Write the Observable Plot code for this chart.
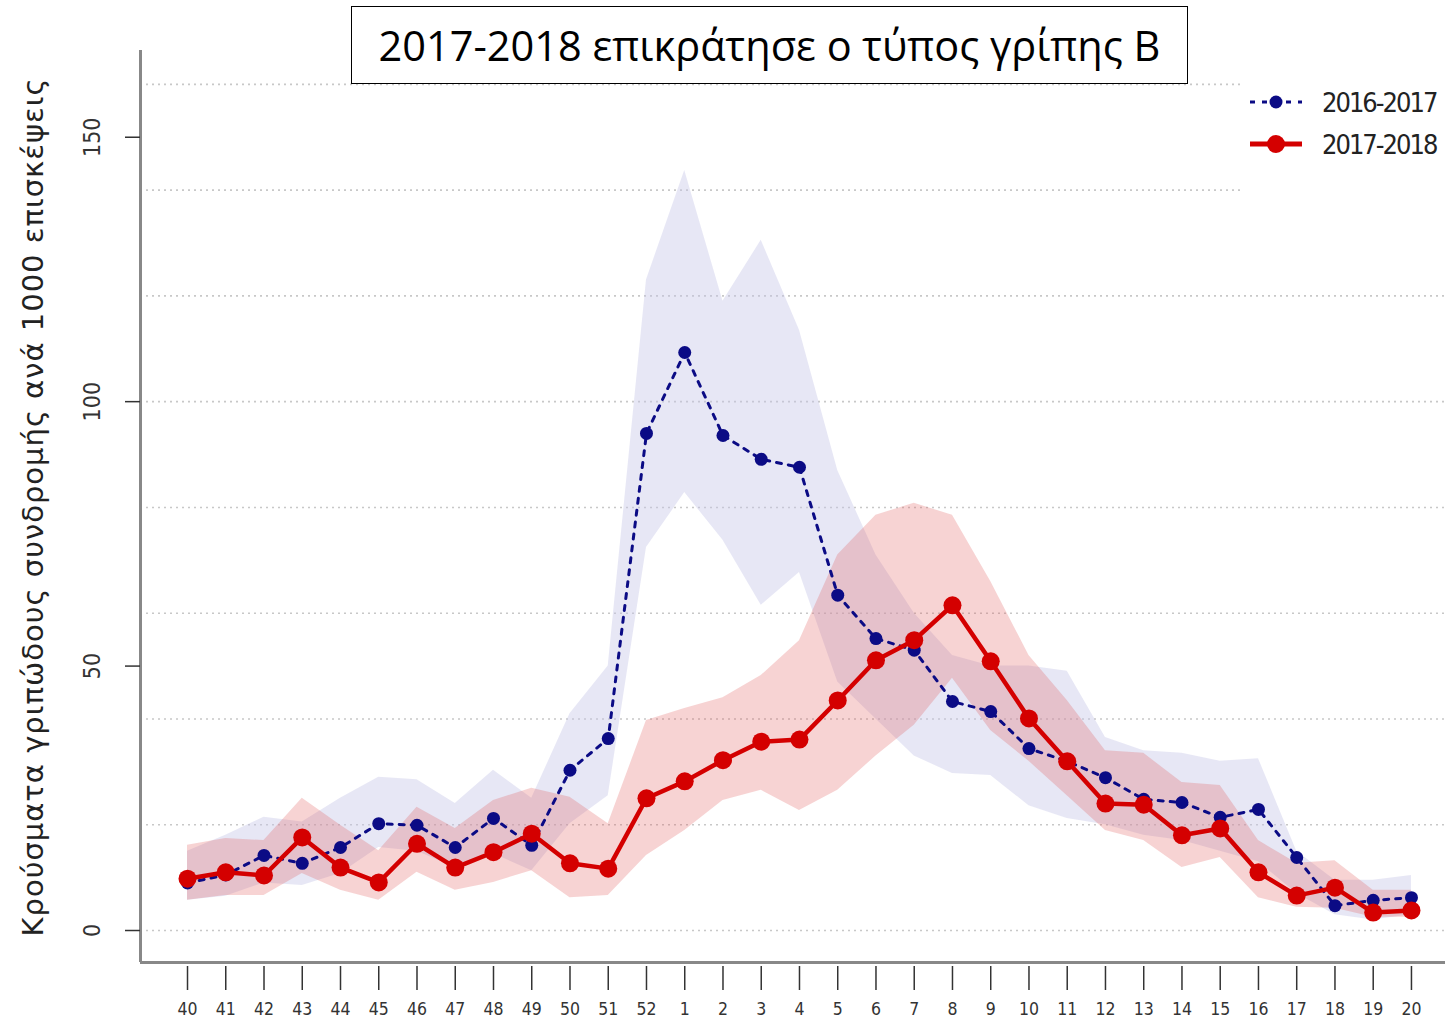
<!DOCTYPE html>
<html>
<head>
<meta charset="utf-8">
<script src="https://cdn.jsdelivr.net/npm/d3@7"></script>
<script src="https://cdn.jsdelivr.net/npm/@observablehq/plot@0.6"></script>
<style>
  body { margin: 0; background: #fff; }
  #wrap { position: relative; width: 1445px; height: 1022px; overflow: hidden; }
  #title { position: absolute; left: 351px; top: 6px; width: 835px; height: 76px; border: 1.5px solid #000;
           font-family: "Open Sans", "Noto Sans", sans-serif; font-size: 41.5px; line-height: 76px; text-align: center; color: #000; background: #fff; z-index: 2; white-space: nowrap; }
  #ylabel { position: absolute; left: 33px; top: 507px; transform: translate(-50%, -50%) rotate(-90deg); white-space: nowrap;
            font-family: "DejaVu Sans", sans-serif; font-size: 29px; letter-spacing: 1px; color: #222; }
  #legend { position: absolute; left: 1240px; top: 74px; width: 205px; height: 118px; background: #fff; z-index: 2;
            font-family: "DejaVu Sans Condensed", "DejaVu Sans", sans-serif; font-stretch: condensed; font-size: 27px; letter-spacing: -2px; color: #222; }
  .lg { position: absolute; left: 0; height: 40px; display: flex; align-items: center; white-space: nowrap; }
  .lg svg { margin-left: 8px; margin-right: 18px; }
</style>
</head>
<body>
<div id="wrap">
  <div id="title">2017-2018 επικράτησε ο τύπος γρίπης Β</div>
  <div id="ylabel">Κρούσματα γριπώδους συνδρομής ανά 1000 επισκέψεις</div>
  <div id="legend">
    <div class="lg" style="top:8px"><svg width="56" height="20"><line x1="2" y1="10" x2="54" y2="10" stroke="#0b0b85" stroke-width="3" stroke-dasharray="5,7"/><circle cx="28" cy="10" r="6.5" fill="#0b0b85"/></svg><span>2016-2017</span></div>
    <div class="lg" style="top:50px"><svg width="56" height="20"><line x1="2" y1="10" x2="54" y2="10" stroke="#d40000" stroke-width="5"/><circle cx="28" cy="10" r="9" fill="#d40000"/></svg><span>2017-2018</span></div>
  </div>
  <div id="chart"></div>
</div>
<script>
const weeks = ["40","41","42","43","44","45","46","47","48","49","50","51","52","1","2","3","4","5","6","7","8","9","10","11","12","13","14","15","16","17","18","19","20"];
const yTicks = [0, 50, 100, 150];
const gridValues = [0, 20, 40, 60, 80, 100, 120, 140, 160];

const rate1617 = [9.0, 10.5, 14.2, 12.7, 15.7, 20.2, 19.9, 15.7, 21.2, 16.1, 30.3, 36.3, 94.0, 109.3, 93.6, 89.1, 87.6, 63.4, 55.2, 53.0, 43.3, 41.4, 34.4, 32.0, 28.9, 24.8, 24.2, 21.4, 22.9, 13.8, 4.7, 5.7, 6.2];
const low1617  = [5.7, 6.5, 9.0, 8.5, 10.8, 15.7, 15.0, 11.9, 14.5, 11.3, 20.2, 25.5, 72.4, 82.8, 73.8, 61.5, 67.7, 47.0, 40.0, 33.0, 29.7, 29.3, 23.6, 21.2, 20.0, 18.0, 17.0, 15.0, 13.0, 7.0, 3.0, 2.0, 3.0];
const high1617 = [15.0, 18.0, 21.4, 20.5, 25.0, 29.0, 28.5, 24.0, 30.3, 25.0, 41.0, 50.0, 123.0, 143.7, 119.0, 130.5, 113.5, 87.0, 71.0, 60.0, 52.0, 50.0, 50.0, 49.0, 36.5, 34.0, 33.5, 32.0, 32.5, 15.0, 9.5, 9.5, 10.4];

const rate1718 = [9.8, 11.0, 10.4, 17.6, 11.9, 9.1, 16.4, 11.9, 14.8, 18.3, 12.7, 11.7, 25.0, 28.2, 32.2, 35.7, 36.1, 43.5, 51.1, 54.9, 61.5, 50.9, 40.1, 32.0, 24.0, 23.8, 18.0, 19.3, 11.0, 6.6, 8.1, 3.4, 3.8];
const low1718  = [5.7, 6.6, 6.6, 10.8, 7.6, 5.7, 11.0, 7.6, 9.1, 11.3, 6.2, 6.6, 14.2, 18.9, 24.6, 26.5, 22.7, 26.5, 33.0, 38.8, 47.7, 37.8, 32.0, 25.5, 18.9, 17.0, 11.9, 13.8, 6.2, 4.4, 4.2, 2.5, 2.5];
const high1718 = [16.1, 17.4, 17.0, 25.0, 19.9, 15.1, 23.3, 19.3, 24.6, 26.9, 25.2, 20.2, 39.7, 42.0, 44.0, 48.2, 54.8, 71.0, 78.5, 80.8, 78.5, 66.0, 52.0, 43.5, 34.0, 33.5, 28.0, 27.4, 17.0, 12.7, 13.2, 7.6, 7.6];

const s1617 = weeks.map((w, i) => ({i, v: rate1617[i], lo: low1617[i], hi: high1617[i]}));
const s1718 = weeks.map((w, i) => ({i, v: rate1718[i], lo: low1718[i], hi: high1718[i]}));

const xMin = -1.229, xMax = 32.89, yMin = -6.05, yMax = 166.4;
const blue = "#0b0b85", red = "#d40000";
const tickFont = '"DejaVu Sans Condensed", "DejaVu Sans", sans-serif';

const chart = Plot.plot({
  width: 1445,
  height: 1022,
  marginLeft: 140,
  marginRight: 0,
  marginTop: 50,
  marginBottom: 60,
  style: {fontFamily: tickFont, fontSize: "17px", color: "#333", background: "transparent"},
  x: {type: "linear", domain: [xMin, xMax], axis: null, label: null},
  y: {domain: [yMin, yMax], axis: null, label: null},
  marks: [
    Plot.ruleY(gridValues, {stroke: "#c8c8c8", strokeWidth: 1.6, strokeDasharray: "2,4"}),
    Plot.areaY(s1617, {x: "i", y1: "lo", y2: "hi", fill: "#c6c6e6", fillOpacity: 0.42}),
    Plot.areaY(s1718, {x: "i", y1: "lo", y2: "hi", fill: "#e05050", fillOpacity: 0.25}),
    Plot.line(s1617, {x: "i", y: "v", stroke: blue, strokeWidth: 3, strokeDasharray: "5,7"}),
    Plot.dot(s1617, {x: "i", y: "v", r: 6.5, fill: blue}),
    Plot.line(s1718, {x: "i", y: "v", stroke: red, strokeWidth: 4.5}),
    Plot.dot(s1718, {x: "i", y: "v", r: 9, fill: red}),
    Plot.ruleX([xMin], {stroke: "#888", strokeWidth: 3}),
    Plot.ruleY([yMin], {stroke: "#888", strokeWidth: 3}),
    Plot.axisY({ticks: yTicks, tickSize: 15, tickFormat: () => "", stroke: "#333", strokeWidth: 1.5, label: null}),
    Plot.text(yTicks, {frameAnchor: "left", textAnchor: "middle", y: d => d, text: d => String(d), rotate: -90, dx: -48, fontSize: 23, fill: "#333"}),
    Plot.axisX({ticks: d3.range(weeks.length), tickSize: 24, tickPadding: 12, tickFormat: i => weeks[i], fontSize: 17.5, stroke: "#333", strokeWidth: 1.5, fill: "#333", dy: 4, label: null})
  ]
});
document.getElementById("chart").appendChild(chart);
</script>
</body>
</html>
